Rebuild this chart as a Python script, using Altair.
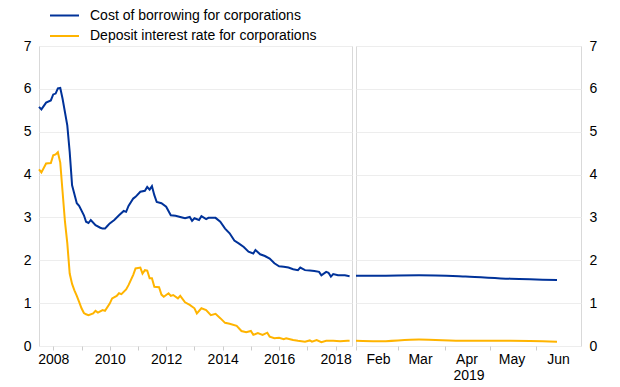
import altair as alt
import pandas as pd

FONT = "Liberation Sans"

series_names = ["Cost of borrowing for corporations", "Deposit interest rate for corporations"]
series_colors = ["#003299", "#ffb400"]

borrow_dates = [
    "2007-07", "2007-08", "2007-10", "2007-12", "2008-01", "2008-02", "2008-03", "2008-04",
    "2008-05", "2008-07", "2008-08", "2008-09", "2008-11", "2008-12", "2009-02", "2009-03",
    "2009-04", "2009-05", "2009-07", "2009-09", "2009-10", "2009-11", "2009-12", "2010-01",
    "2010-03", "2010-05", "2010-07", "2010-08", "2010-09", "2010-11", "2010-12", "2011-02",
    "2011-04", "2011-05", "2011-06", "2011-07", "2011-08", "2011-09", "2011-11", "2012-01",
    "2012-03", "2012-05", "2012-07", "2012-09", "2012-11", "2012-12", "2013-01", "2013-03",
    "2013-04", "2013-06", "2013-07", "2013-09", "2013-10", "2013-12", "2014-02", "2014-04",
    "2014-06", "2014-08", "2014-10", "2014-12", "2015-02", "2015-03", "2015-05", "2015-07",
    "2015-09", "2015-11", "2016-01", "2016-03", "2016-05", "2016-07", "2016-09", "2016-10",
    "2016-12", "2017-02", "2017-04", "2017-06", "2017-07", "2017-09", "2017-10", "2017-11",
    "2017-12", "2018-02", "2018-05", "2018-07",
]
borrow_values = [
    5.58, 5.52, 5.68, 5.73, 5.87, 5.89, 6.01, 6.02,
    5.77, 5.15, 4.53, 3.75, 3.33, 3.27, 3.05, 2.90,
    2.87, 2.94, 2.82, 2.76, 2.74, 2.74, 2.80, 2.86,
    2.94, 3.05, 3.15, 3.13, 3.27, 3.44, 3.48, 3.60,
    3.62, 3.71, 3.65, 3.73, 3.52, 3.36, 3.33, 3.25,
    3.05, 3.04, 3.01, 2.98, 3.01, 2.92, 2.98, 2.94,
    3.03, 2.96, 2.99, 2.99, 2.99, 2.90, 2.74, 2.63,
    2.46, 2.39, 2.31, 2.20, 2.16, 2.24, 2.14, 2.10,
    2.04, 1.93, 1.86, 1.85, 1.83, 1.79, 1.77, 1.83,
    1.77, 1.76, 1.75, 1.73, 1.65, 1.73, 1.71, 1.62,
    1.68, 1.65, 1.65, 1.63,
]

deposit_dates = [
    "2007-07", "2007-08", "2007-10", "2007-12", "2008-01", "2008-02", "2008-03", "2008-04",
    "2008-05", "2008-06", "2008-07", "2008-08", "2008-09", "2008-10", "2008-11", "2008-12",
    "2009-01", "2009-02", "2009-03", "2009-04", "2009-06", "2009-07", "2009-08", "2009-10",
    "2009-11", "2010-01", "2010-02", "2010-04", "2010-05", "2010-06", "2010-08", "2010-09",
    "2010-11", "2010-12", "2011-02", "2011-03", "2011-04", "2011-05", "2011-06", "2011-07",
    "2011-08", "2011-10", "2011-11", "2011-12", "2012-02", "2012-03", "2012-04", "2012-06",
    "2012-07", "2012-09", "2012-11", "2013-01", "2013-02", "2013-04", "2013-06", "2013-08",
    "2013-10", "2013-12", "2014-02", "2014-04", "2014-07", "2014-09", "2014-11", "2015-01",
    "2015-02", "2015-04", "2015-06", "2015-08", "2015-09", "2015-11", "2016-01", "2016-03",
    "2016-04", "2016-07", "2016-09", "2016-12", "2017-02", "2017-03", "2017-05", "2017-07",
    "2017-09", "2017-12", "2018-03", "2018-06", "2018-07",
]
deposit_values = [
    4.12, 4.05, 4.26, 4.27, 4.45, 4.47, 4.52, 4.28,
    3.60, 2.90, 2.40, 1.69, 1.45, 1.30, 1.17, 1.03,
    0.88, 0.77, 0.74, 0.72, 0.76, 0.82, 0.78, 0.84,
    0.82, 0.99, 1.11, 1.17, 1.23, 1.21, 1.32, 1.42,
    1.66, 1.81, 1.83, 1.69, 1.77, 1.76, 1.58, 1.58,
    1.38, 1.37, 1.20, 1.15, 1.23, 1.17, 1.19, 1.11,
    1.17, 1.02, 0.96, 0.88, 0.76, 0.88, 0.84, 0.72,
    0.75, 0.65, 0.54, 0.52, 0.47, 0.35, 0.32, 0.35,
    0.26, 0.30, 0.26, 0.31, 0.22, 0.18, 0.19, 0.16,
    0.18, 0.14, 0.12, 0.10, 0.13, 0.10, 0.14, 0.09,
    0.12, 0.12, 0.11, 0.12, 0.12,
]

recent_dates = ["2019-02-01", "2019-02-15", "2019-03-15", "2019-04-15", "2019-05-15", "2019-06-15"]
recent_borrow = [1.64, 1.64, 1.65, 1.62, 1.57, 1.54]
recent_deposit = [0.12, 0.11, 0.15, 0.12, 0.12, 0.10]

y_ticks = [0, 1, 2, 3, 4, 5, 6, 7]
year_ticks = list(range(2008, 2019))
month_ticks = [2, 3, 4, 5, 6]

hist = pd.concat([
    pd.DataFrame({"date": pd.to_datetime(borrow_dates), "value": borrow_values, "series": series_names[0]}),
    pd.DataFrame({"date": pd.to_datetime(deposit_dates), "value": deposit_values, "series": series_names[1]}),
])
recent = pd.concat([
    pd.DataFrame({"date": pd.to_datetime(recent_dates), "value": recent_borrow, "series": series_names[0]}),
    pd.DataFrame({"date": pd.to_datetime(recent_dates), "value": recent_deposit, "series": series_names[1]}),
])

color_scale = alt.Scale(domain=series_names, range=series_colors)
y_scale = alt.Scale(domain=[0, 7], nice=False, zero=True)

common_axis = dict(labelFont=FONT, labelFontSize=14, labelColor="#000000",
                   domain=False, gridColor="#ededed", gridWidth=1)

left = alt.Chart(hist).mark_line(strokeWidth=2).encode(
    x=alt.X("date:T",
            scale=alt.Scale(domain=[alt.DateTime(year=2007, month=7, date=1),
                                    alt.DateTime(year=2018, month=8, date=1)]),
            axis=alt.Axis(values=[alt.DateTime(year=y, month=1, date=1) for y in year_ticks],
                          labelExpr="year(datum.value) % 2 == 0 ? timeFormat(datum.value, '%Y') : ''",
                          title=None, grid=False, ticks=True, tickSize=4, tickColor="#cccccc",
                          labelPadding=2, labelFlush=False, labelOverlap=False, **common_axis)),
    y=alt.Y("value:Q", scale=y_scale,
            axis=alt.Axis(values=y_ticks, title=None, ticks=False, labelPadding=8, grid=True,
                          **common_axis)),
    color=alt.Color("series:N", scale=color_scale,
                    legend=alt.Legend(orient="none", legendX=17, legendY=-39, title=None,
                                      symbolType="M-2,0H2", symbolSize=210, symbolStrokeWidth=2,
                                      labelFont=FONT, labelFontSize=14, labelColor="#000000",
                                      labelOffset=17, rowPadding=4.5, labelLimit=400)),
).properties(width=313, height=300)

right = alt.Chart(recent).mark_line(strokeWidth=2, interpolate="monotone").encode(
    x=alt.X("date:T",
            scale=alt.Scale(domain=[alt.DateTime(year=2019, month=2, date=1),
                                    alt.DateTime(year=2019, month=7, date=1)]),
            axis=alt.Axis(values=[alt.DateTime(year=2019, month=m, date=1) for m in month_ticks],
                          format="%b", labelOffset=22, title="2019", titleFont=FONT,
                          titleFontSize=14, titleFontWeight="normal", titleColor="#000000",
                          titlePadding=2, grid=False, ticks=True, tickSize=4, tickColor="#cccccc",
                          labelPadding=2, labelFlush=False, labelOverlap=False, **common_axis)),
    y=alt.Y("value:Q", scale=y_scale,
            axis=alt.Axis(values=y_ticks, title=None, ticks=False, labelPadding=8, grid=True,
                          orient="right", **common_axis)),
    color=alt.Color("series:N", scale=color_scale, legend=None),
).properties(width=225, height=300)

chart = alt.hconcat(left, right, spacing=4, bounds="flush").resolve_scale(
    color="independent"
).resolve_legend(color="independent").configure_view(stroke="#d9d9d9").properties(
    padding={"left": 14, "top": -2, "right": 5, "bottom": 0}
)

chart.save("out.html", embed_options={"renderer": "svg", "actions": False})
